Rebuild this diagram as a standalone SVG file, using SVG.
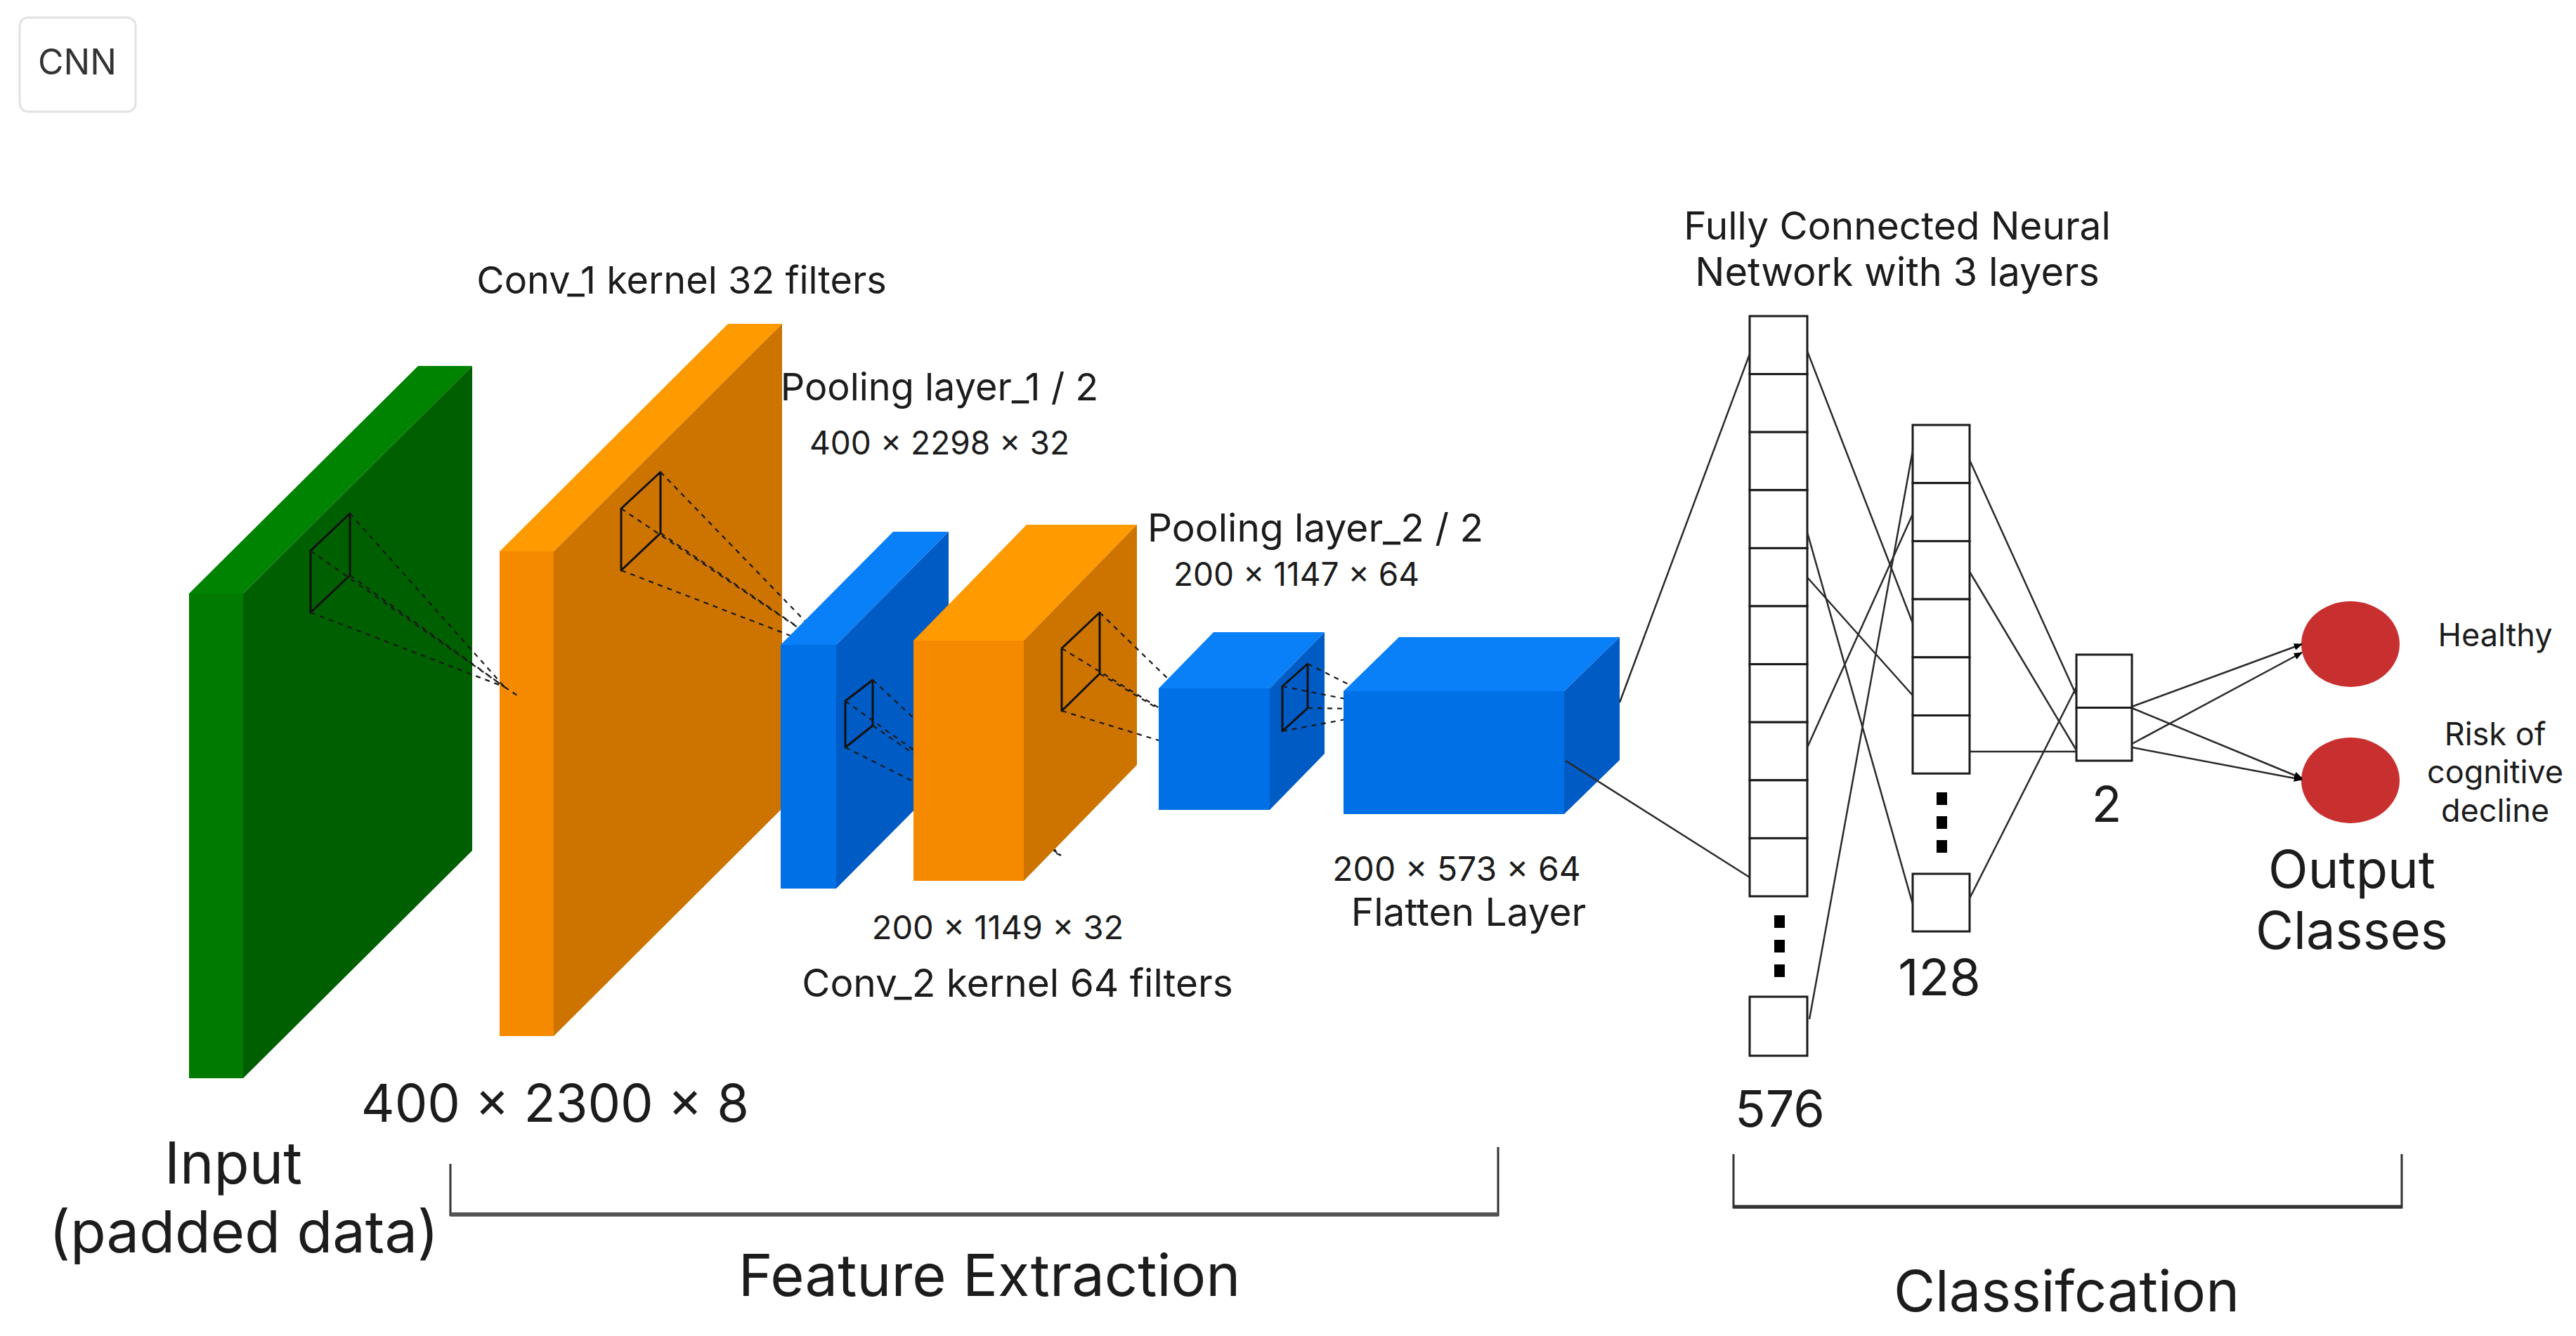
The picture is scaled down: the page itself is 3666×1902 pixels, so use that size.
<svg xmlns="http://www.w3.org/2000/svg" width="3666" height="1902" viewBox="0 0 3666 1902">
<defs>
<style>
text{font-family:Inter,"Noto Sans","Liberation Sans",sans-serif;fill:#1c1c1c}
.k{fill:none;stroke:#111;stroke-width:3;stroke-linejoin:round}
.d{fill:none;stroke:#1a1a1a;stroke-width:2.2;stroke-dasharray:7 7}
.cell{fill:#fff;stroke:#1a1a1a;stroke-width:3}
.dot{fill:#000}
.c{fill:none;stroke:#2a2a2a;stroke-width:2.5}
.br{fill:none;stroke:#333;stroke-width:3}
.gF{fill:#007A00}.gT{fill:#008300}.gS{fill:#005F00}
.oF{fill:#F58A00}.oT{fill:#FF9A00}.oS{fill:#CC7300}
.bF{fill:#0070E6}.bT{fill:#0A80F8}.bS{fill:#005BC4}
</style>
<marker id="ah" viewBox="0 0 10 10" refX="9" refY="5" markerWidth="5" markerHeight="5" markerUnits="strokeWidth" orient="auto">
<path d="M0,1 L10,5 L0,9 z" fill="#000"/>
</marker>
</defs>
<rect width="3666" height="1902" fill="#fff"/>

<g id="cnn-label">
<rect x="28" y="25" width="165" height="134" rx="12" fill="#fff" stroke="#e2e2e2" stroke-width="3"/>
<text x="110" y="106" font-size="50" text-anchor="middle" style="fill:#333">CNN</text>
</g>

<g id="input-layer">
<polygon class="gT" points="269,845 595,521 672,521 346,845"/>
<polygon class="gS" points="346,845 672,521 672,1211 346,1535"/>
<rect class="gF" x="269" y="845" width="77" height="690"/>
</g>

<g id="conv1-layer">
<polygon class="oT" points="711,785 1036,461 1113,461 788,785"/>
<polygon class="oS" points="788,785 1113,461 1113,1151 788,1475"/>
<rect class="oF" x="711" y="785" width="77" height="690"/>
</g>

<g id="input-kernel">
<polygon class="k" points="442,784 498,731 498,819 442,872"/>
<path class="d" d="M442,784 L718,978 M498,731 L718,978 M498,819 L718,978 M442,872 L718,978 M718,978 L736,990"/>
</g>

<g id="conv1-kernel">
<polygon class="k" points="884,724 940,672 940,759 884,812"/>
<path class="d" d="M884,724 L1190,930 M940,672 L1190,930 M940,759 L1190,930 M884,812 L1190,930"/>
</g>

<g id="pool1-layer">
<polygon class="bT" points="1111,918 1271,757 1350,757 1190,918"/>
<polygon class="bS" points="1190,918 1350,757 1350,1104 1190,1265"/>
<rect class="bF" x="1111" y="918" width="79" height="347"/>
<polygon class="k" points="1203,998 1242,968 1242,1033 1203,1064"/>
<path class="d" d="M1203,998 L1510,1218 M1242,968 L1510,1218 M1242,1033 L1510,1218 M1203,1064 L1510,1218"/>
</g>

<g id="conv2-layer">
<polygon class="oT" points="1300,912 1461,747 1618,747 1457,912"/>
<polygon class="oS" points="1457,912 1618,747 1618,1089 1457,1254"/>
<rect class="oF" x="1300" y="912" width="157" height="342"/>
<polygon class="k" points="1511,923 1565,872 1565,959 1511,1012"/>
<path class="d" d="M1511,923 L1800,1100 M1565,872 L1800,1100 M1565,959 L1800,1100 M1511,1012 L1800,1100"/>
</g>

<g id="pool2-layer">
<polygon class="bT" points="1649,980 1727,900 1885,900 1807,980"/>
<polygon class="bS" points="1807,980 1885,900 1885,1073 1807,1153"/>
<rect class="bF" x="1649" y="980" width="158" height="173"/>
<polygon class="k" points="1825,977 1861,945 1861,1008 1825,1041"/>
<path class="d" d="M1825,977 L1990,1010 M1861,945 L1990,1010 M1861,1008 L1990,1010 M1825,1041 L1990,1010"/>
</g>

<g id="flatten-layer">
<polygon class="bT" points="1912,984 1991,907 2305,907 2226,984"/>
<polygon class="bS" points="2226,984 2305,907 2305,1082 2226,1159"/>
<rect class="bF" x="1912" y="984" width="314" height="175"/>
</g>

<g id="fc-576">
<rect class="cell" x="2490" y="450" width="82" height="82.6"/>
<rect class="cell" x="2490" y="532.6" width="82" height="82.6"/>
<rect class="cell" x="2490" y="615.2" width="82" height="82.6"/>
<rect class="cell" x="2490" y="697.8" width="82" height="82.6"/>
<rect class="cell" x="2490" y="780.4" width="82" height="82.6"/>
<rect class="cell" x="2490" y="863" width="82" height="82.6"/>
<rect class="cell" x="2490" y="945.6" width="82" height="82.6"/>
<rect class="cell" x="2490" y="1028.2" width="82" height="82.6"/>
<rect class="cell" x="2490" y="1110.8" width="82" height="82.6"/>
<rect class="cell" x="2490" y="1193.4" width="82" height="82.6"/>
<rect class="dot" x="2525" y="1303" width="15" height="18"/>
<rect class="dot" x="2525" y="1338" width="15" height="18"/>
<rect class="dot" x="2525" y="1373" width="15" height="18"/>
<rect class="cell" x="2490" y="1419" width="82" height="84"/>
</g>

<g id="fc-128">
<rect class="cell" x="2722" y="605" width="81" height="82.7"/>
<rect class="cell" x="2722" y="687.7" width="81" height="82.7"/>
<rect class="cell" x="2722" y="770.4" width="81" height="82.7"/>
<rect class="cell" x="2722" y="853.1" width="81" height="82.7"/>
<rect class="cell" x="2722" y="935.8" width="81" height="82.7"/>
<rect class="cell" x="2722" y="1018.5" width="81" height="82.7"/>
<rect class="dot" x="2756" y="1128" width="15" height="18"/>
<rect class="dot" x="2756" y="1162" width="15" height="18"/>
<rect class="dot" x="2756" y="1196" width="15" height="18"/>
<rect class="cell" x="2722" y="1244" width="81" height="82"/>
</g>

<g id="fc-2">
<rect class="cell" x="2955" y="932" width="79" height="75.5"/>
<rect class="cell" x="2955" y="1007.5" width="79" height="75.5"/>
</g>

<g id="out-healthy">
<ellipse cx="3345" cy="917" rx="70" ry="61" fill="#C8302F"/>
</g>
<g id="out-risk">
<ellipse cx="3345" cy="1111" rx="70" ry="61" fill="#C8302F"/>
</g>

<g id="connectors">
<line class="c" x1="2305" y1="1000" x2="2490" y2="504"/>
<line class="c" x1="2228" y1="1083" x2="2490" y2="1249"/>
<line class="c" x1="2572" y1="500" x2="2722" y2="887"/>
<line class="c" x1="2572" y1="758" x2="2722" y2="1287"/>
<line class="c" x1="2572" y1="822" x2="2722" y2="990"/>
<line class="c" x1="2572" y1="1064" x2="2722" y2="732"/>
<line class="c" x1="2575" y1="1451" x2="2722" y2="642"/>
<line class="c" x1="2803" y1="655" x2="2955" y2="990"/>
<line class="c" x1="2803" y1="814" x2="2955" y2="1068"/>
<line class="c" x1="2803" y1="1070" x2="2955" y2="1070"/>
<line class="c" x1="2803" y1="1279" x2="2955" y2="978"/>
<line class="c" x1="3034" y1="1006" x2="3276" y2="917" marker-end="url(#ah)"/>
<line class="c" x1="3034" y1="1059" x2="3276" y2="929" marker-end="url(#ah)"/>
<line class="c" x1="3034" y1="1008" x2="3276" y2="1108" marker-end="url(#ah)"/>
<line class="c" x1="3034" y1="1064" x2="3276" y2="1110" marker-end="url(#ah)"/>
<path class="br" d="M641,1657 V1730 H2132 V1633"/>
<path class="br" d="M2467,1643 V1719 H3418 V1643"/>
</g>
<g id="brackets-thick">
<line x1="641" y1="1729" x2="2132" y2="1729" stroke="#555" stroke-width="6"/>
<line x1="2467" y1="1718" x2="3418" y2="1718" stroke="#333" stroke-width="5"/>
</g>

<g id="labels">
<text x="970" y="418" font-size="54" text-anchor="middle">Conv_1 kernel 32 filters</text>
<text x="1337" y="570" font-size="54" text-anchor="middle">Pooling layer_1 / 2</text>
<text x="1337" y="647" font-size="46" text-anchor="middle">400 × 2298 × 32</text>
<text x="1872" y="771" font-size="55" text-anchor="middle">Pooling layer_2 / 2</text>
<text x="1845" y="834" font-size="46" text-anchor="middle">200 × 1147 × 64</text>
<text x="1420" y="1337" font-size="47" text-anchor="middle">200 × 1149 × 32</text>
<text x="1448" y="1419" font-size="55" text-anchor="middle">Conv_2 kernel 64 filters</text>
<text x="2073" y="1254" font-size="48" text-anchor="middle">200 × 573 × 64</text>
<text x="2090" y="1318" font-size="55" text-anchor="middle">Flatten Layer</text>
<text x="2700" y="341" font-size="55" text-anchor="middle">Fully Connected Neural</text>
<text x="2700" y="407" font-size="56" text-anchor="middle">Network with 3 layers</text>
<text x="2533" y="1604" font-size="72" text-anchor="middle">576</text>
<text x="2760" y="1417" font-size="72" text-anchor="middle">128</text>
<text x="2998" y="1170" font-size="70" text-anchor="middle">2</text>
<text x="3551" y="920" font-size="45" text-anchor="middle">Healthy</text>
<text x="3551" y="1061" font-size="45" text-anchor="middle">Risk of</text>
<text x="3551" y="1115" font-size="45" text-anchor="middle">cognitive</text>
<text x="3551" y="1170" font-size="45" text-anchor="middle">decline</text>
<text x="3347" y="1264" font-size="74" text-anchor="middle">Output</text>
<text x="3347" y="1351" font-size="74" text-anchor="middle">Classes</text>
<text x="790" y="1597" font-size="74" text-anchor="middle">400 × 2300 × 8</text>
<text x="332" y="1685" font-size="82" text-anchor="middle">Input</text>
<text x="347" y="1783" font-size="83" text-anchor="middle">(padded data)</text>
<text x="1408" y="1845" font-size="83" text-anchor="middle">Feature Extraction</text>
<text x="2941" y="1867" font-size="81" text-anchor="middle">Classifcation</text>
</g>
</svg>
